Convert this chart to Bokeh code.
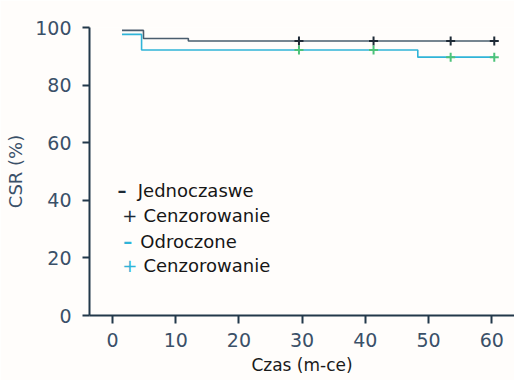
from bokeh.plotting import figure
from bokeh.models import Range1d, FixedTicker, Label
from bokeh.embed import file_html
from bokeh.resources import INLINE

# Kaplan-Meier step data (time in months, CSR %)
t_jed = [1.5, 4.9, 12.0, 60.5]
s_jed = [99.0, 96.2, 95.3, 95.3]
t_odr = [1.5, 4.6, 48.3, 60.5]
s_odr = [97.6, 92.2, 89.7, 89.7]
cens_t_jed = [29.5, 41.3, 53.5, 60.4]
cens_s_jed = [95.3, 95.3, 95.3, 95.3]
cens_t_odr = [29.5, 41.3, 53.5, 60.4]
cens_s_odr = [92.2, 92.2, 89.7, 89.7]
x_ticks = [0, 10, 20, 30, 40, 50, 60]
y_ticks = [0, 20, 40, 60, 80, 100]
x_title = "Czas (m-ce)"
y_title = "CSR (%)"
legend_labels = ["Jednoczaswe", "Cenzorowanie", "Odroczone", "Cenzorowanie"]
legend_symbols = ["\u2013", "+", "\u2013", "+"]

DARK = "#4a5d6e"
CENS_DARK = "#1e2a36"
CYAN = "#30b4d8"
GREEN = "#4cc27a"
AXC = "#22384a"
TXT = "#3a5068"

p = figure(width=514, height=380, output_backend="svg", toolbar_location=None,
           x_range=Range1d(-3.64, 63.6), y_range=Range1d(0, 100),
           min_border_left=89, min_border_top=27, min_border_bottom=65, min_border_right=0)
p.outline_line_color = None
p.grid.grid_line_color = None
p.background_fill_color = "#fffdfb"
p.border_fill_color = "#fffdfb"

p.step(t_jed, s_jed, mode="after", line_color=DARK, line_width=1.6)
p.step(t_odr, s_odr, mode="after", line_color=CYAN, line_width=1.6)
p.scatter(cens_t_jed, cens_s_jed, marker="cross", size=9, line_color=CENS_DARK, line_width=2)
p.scatter(cens_t_odr, cens_s_odr, marker="cross", size=9, line_color=GREEN, line_width=2)

for ax in (p.xaxis[0], p.yaxis[0]):
    ax.axis_line_color = AXC
    ax.axis_line_width = 2
    ax.major_tick_line_color = AXC
    ax.major_tick_line_width = 2
    ax.minor_tick_line_color = None
    ax.major_tick_in = 0
    ax.major_label_text_font = "DejaVu Sans"
    ax.major_label_text_font_size = "19px"
    ax.major_label_text_color = TXT

p.xaxis.major_tick_out = 8
p.yaxis.major_tick_out = 7
p.xaxis.ticker = FixedTicker(ticks=x_ticks)
p.yaxis.ticker = FixedTicker(ticks=y_ticks)
p.xaxis.major_label_standoff = 9
p.yaxis.major_label_standoff = 11

p.xaxis.axis_label = x_title
p.xaxis.axis_label_text_font = "DejaVu Sans"
p.xaxis.axis_label_text_font_size = "17px"
p.xaxis.axis_label_text_font_style = "normal"
p.xaxis.axis_label_text_color = "#1a1a1a"
p.xaxis.axis_label_standoff = 5

p.yaxis.axis_label = y_title
p.yaxis.axis_label_text_font = "DejaVu Sans"
p.yaxis.axis_label_text_font_size = "18px"
p.yaxis.axis_label_text_font_style = "normal"
p.yaxis.axis_label_text_color = TXT
p.yaxis.axis_label_standoff = 6

# manual legend (symbols are text characters as in the original)
sym_colors = [CENS_DARK, CENS_DARK, CYAN, CYAN]
sym_styles = ["bold", "normal", "bold", "normal"]
sym_x = [1.5, 2.75, 2.4, 2.75]
text_x = [4.0, 4.9, 4.4, 4.9]
row_y = [43.4, 34.7, 25.8, 17.4]
for i in range(4):
    p.add_layout(Label(x=sym_x[i], y=row_y[i], text=legend_symbols[i], text_align="center",
                       text_baseline="middle", text_font="DejaVu Sans", text_font_size="18px",
                       text_font_style=sym_styles[i], text_color=sym_colors[i]))
    p.add_layout(Label(x=text_x[i], y=row_y[i], text=legend_labels[i], text_align="left",
                       text_baseline="middle", text_font="DejaVu Sans", text_font_size="18px",
                       text_color="#161616"))

open("out.html", "w").write(file_html(p, INLINE))
